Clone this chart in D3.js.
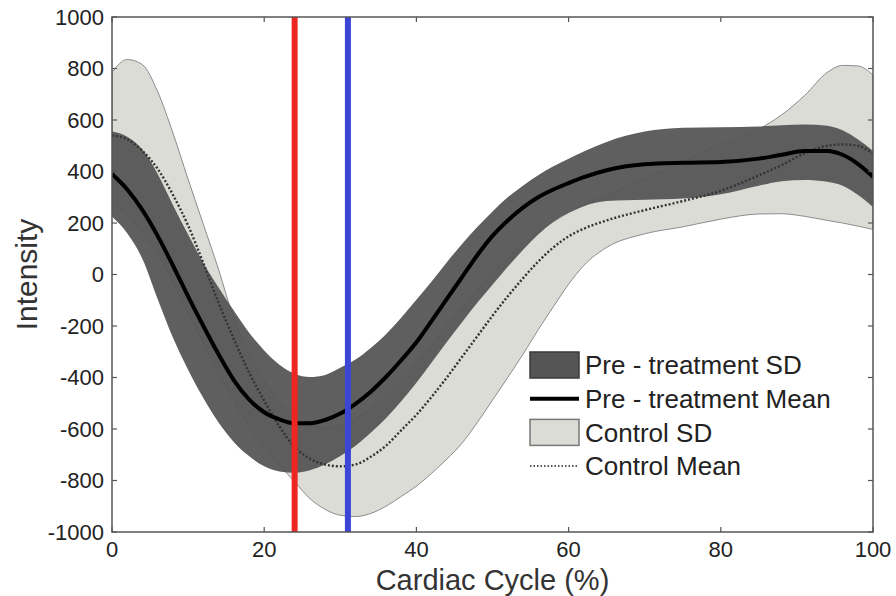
<!DOCTYPE html>
<html>
<head>
<meta charset="utf-8">
<script src="https://cdn.jsdelivr.net/npm/d3@7"></script>
<style>
  body { margin: 0; background: #fff; }
  svg { display: block; font-family: "Liberation Sans", Arial, Helvetica, sans-serif; }
</style>
</head>
<body>
<div id="chart"></div>
<script>
// Cardiac cycle (%) sample points
const cycle = [0, 2, 4, 6, 8, 10, 12, 14, 16, 18, 20, 22, 24, 26, 28, 30, 32, 34, 36, 38, 40,
  42, 44, 46, 48, 50, 52, 54, 56, 58, 60, 62, 65, 70, 75, 80, 85, 88, 91, 94, 96, 98, 100];

const preMean = [390, 330, 250, 150, 35, -85, -200, -310, -410, -485, -535, -563, -578, -578, -565, -540, -502, -455, -398, -333, -263,
  -180, -95, -10, 75, 150, 210, 260, 300, 330, 355, 378, 405, 428, 434, 437, 450, 465, 480, 480, 465, 430, 380];
const preUpper = [555, 535, 485, 390, 270, 155, 45, -50, -140, -225, -295, -350, -385, -398, -390, -362, -330, -285, -232, -168, -98,
  -27, 48, 118, 184, 245, 300, 345, 385, 420, 450, 478, 515, 555, 570, 572, 575, 580, 583, 578, 560, 525, 480];
const preLower = [225, 160, 60, -95, -245, -370, -480, -575, -650, -705, -745, -765, -770, -760, -738, -705, -665, -615, -558, -492, -420,
  -342, -262, -185, -110, -40, 30, 95, 155, 205, 240, 265, 285, 290, 295, 312, 345, 362, 367, 360, 345, 310, 262];

const ctrlMean = [540, 525, 480, 410, 310, 190, 45, -110, -250, -380, -490, -590, -670, -715, -738, -745, -738, -708, -665, -605, -545,
  -475, -400, -320, -240, -160, -85, -15, 50, 105, 148, 178, 210, 250, 285, 325, 385, 425, 470, 500, 505, 500, 470];
const ctrlUpper = [785, 835, 815, 710, 550, 370, 195, 20, -170, -300, -410, -500, -555, -585, -595, -585, -560, -520, -470, -410, -345,
  -275, -200, -130, -60, 5, 65, 120, 165, 205, 240, 268, 308, 372, 440, 505, 565, 620, 695, 785, 812, 810, 775];
const ctrlLower = [280, 230, 165, 80, -30, -150, -265, -380, -490, -590, -670, -740, -805, -870, -912, -935, -940, -928, -900, -862, -822,
  -772, -717, -655, -575, -488, -400, -310, -215, -125, -38, 35, 105, 158, 185, 215, 235, 236, 226, 210, 200, 188, 175];

// Vertical markers (% of cycle)
const markerPos = [24, 31];
const markerColors = ["#ee2622", "#3b45d6"];

const xTicks = [0, 20, 40, 60, 80, 100];
const yTicks = [-1000, -800, -600, -400, -200, 0, 200, 400, 600, 800, 1000];

const legendLabels = ["Pre - treatment SD", "Pre - treatment Mean", "Control SD", "Control Mean"];

const width = 896, height = 596;
const margin = { top: 17, right: 23, bottom: 64, left: 112 };

const svg = d3.select("#chart").append("svg").attr("width", width).attr("height", height);

const x = d3.scaleLinear().domain([0, 100]).range([margin.left, width - margin.right]);
const y = d3.scaleLinear().domain([-1000, 1000]).range([height - margin.bottom, margin.top]);

const rows = cycle.map((c, i) => ({
  c,
  pm: preMean[i], pu: preUpper[i], pl: preLower[i],
  cm: ctrlMean[i], cu: ctrlUpper[i], cl: ctrlLower[i]
}));

const curve = d3.curveMonotoneX;

svg.append("defs").append("clipPath").attr("id", "plot")
  .append("rect")
  .attr("x", x(0)).attr("y", y(1000))
  .attr("width", x(100) - x(0)).attr("height", y(-1000) - y(1000));

const plot = svg.append("g").attr("clip-path", "url(#plot)");

// Control SD band
plot.append("path")
  .datum(rows)
  .attr("d", d3.area().x(d => x(d.c)).y0(d => y(d.cl)).y1(d => y(d.cu)).curve(curve))
  .style("fill", "#dcdcd6")
  .style("stroke", "#8c8c8c")
  .style("stroke-width", 1);

// Pre-treatment SD band
plot.append("path")
  .datum(rows)
  .attr("d", d3.area().x(d => x(d.c)).y0(d => y(d.pl)).y1(d => y(d.pu)).curve(curve))
  .style("fill", "#555555")
  .style("fill-opacity", 0.94);

// Control mean (dotted)
plot.append("path")
  .datum(rows)
  .attr("d", d3.line().x(d => x(d.c)).y(d => y(d.cm)).curve(curve))
  .style("fill", "none")
  .style("stroke", "#333")
  .style("stroke-width", 2.4)
  .style("stroke-dasharray", "2,2");

// Pre-treatment mean
plot.append("path")
  .datum(rows)
  .attr("d", d3.line().x(d => x(d.c)).y(d => y(d.pm)).curve(curve))
  .style("fill", "none")
  .style("stroke", "#000")
  .style("stroke-width", 4);

// Marker lines
markerPos.forEach((m, i) => {
  svg.append("line")
    .attr("x1", x(m)).attr("x2", x(m))
    .attr("y1", y(1000)).attr("y2", y(-1000))
    .style("stroke", markerColors[i])
    .style("stroke-width", 6);
});

// Axes box
const axisColor = "#555";
svg.append("rect")
  .attr("x", x(0)).attr("y", y(1000))
  .attr("width", x(100) - x(0)).attr("height", y(-1000) - y(1000))
  .style("fill", "none")
  .style("stroke", axisColor)
  .style("stroke-width", 1.5);

const tickLen = 5;
xTicks.forEach(t => {
  svg.append("line").attr("x1", x(t)).attr("x2", x(t))
    .attr("y1", y(-1000)).attr("y2", y(-1000) - tickLen)
    .style("stroke", axisColor).style("stroke-width", 1.2);
  svg.append("line").attr("x1", x(t)).attr("x2", x(t))
    .attr("y1", y(1000)).attr("y2", y(1000) + tickLen)
    .style("stroke", axisColor).style("stroke-width", 1.2);
  svg.append("text")
    .attr("x", x(t)).attr("y", y(-1000) + 25)
    .attr("text-anchor", "middle")
    .style("font-size", "22px")
    .style("fill", "#222")
    .text(t);
});

yTicks.forEach(t => {
  svg.append("line").attr("x1", x(0)).attr("x2", x(0) + tickLen)
    .attr("y1", y(t)).attr("y2", y(t))
    .style("stroke", axisColor).style("stroke-width", 1.2);
  svg.append("line").attr("x1", x(100)).attr("x2", x(100) - tickLen)
    .attr("y1", y(t)).attr("y2", y(t))
    .style("stroke", axisColor).style("stroke-width", 1.2);
  svg.append("text")
    .attr("x", x(0) - 8).attr("y", y(t))
    .attr("dy", "0.36em")
    .attr("text-anchor", "end")
    .style("font-size", "22px")
    .style("fill", "#222")
    .text(t);
});

// Axis titles
svg.append("text")
  .attr("x", (x(0) + x(100)) / 2).attr("y", 590)
  .attr("text-anchor", "middle")
  .style("font-size", "29px")
  .style("fill", "#333")
  .text("Cardiac Cycle (%)");

svg.append("text")
  .attr("transform", `translate(37, ${(y(1000) + y(-1000)) / 2}) rotate(-90)`)
  .attr("text-anchor", "middle")
  .style("font-size", "30px")
  .style("fill", "#333")
  .text("Intensity");

// Legend
const legend = svg.append("g").attr("transform", "translate(530, 365)");
const rowH = 33.7;

legend.append("rect")
  .attr("x", 0).attr("y", -13).attr("width", 49).attr("height", 26)
  .style("fill", "#555").style("stroke", "#3a3a3a").style("stroke-width", 1.5);
legend.append("line")
  .attr("x1", 0).attr("x2", 49).attr("y1", rowH).attr("y2", rowH)
  .style("stroke", "#000").style("stroke-width", 4);
legend.append("rect")
  .attr("x", 0).attr("y", rowH * 2 - 13).attr("width", 49).attr("height", 26)
  .style("fill", "#dcdcd6").style("stroke", "#777").style("stroke-width", 1.5);
legend.append("line")
  .attr("x1", 0).attr("x2", 49).attr("y1", rowH * 3).attr("y2", rowH * 3)
  .style("stroke", "#555").style("stroke-width", 2).style("stroke-dasharray", "1.5,2");

legendLabels.forEach((lab, i) => {
  legend.append("text")
    .attr("x", 55).attr("y", rowH * i)
    .attr("dy", "0.36em")
    .style("font-size", "26px")
    .style("fill", "#222")
    .text(lab);
});
</script>
</body>
</html>
